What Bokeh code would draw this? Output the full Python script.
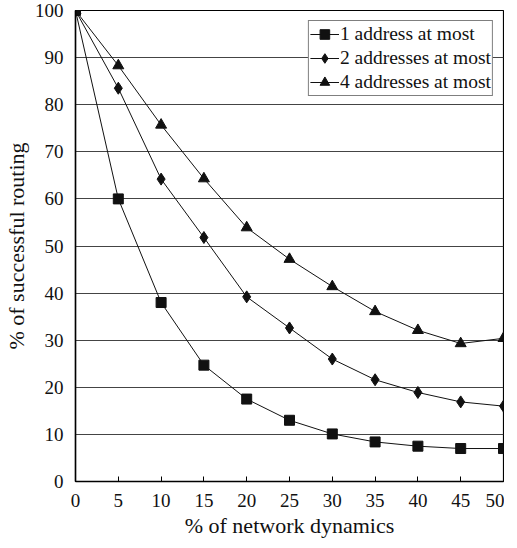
from bokeh.plotting import figure
from bokeh.models import Range1d, FixedTicker, Legend, LegendItem
from bokeh.embed import file_html
from bokeh.resources import INLINE

x = [0, 5, 10, 15, 20, 25, 30, 35, 40, 45, 50]
one_addr = [100, 60, 38, 24.7, 17.5, 13.0, 10.1, 8.4, 7.5, 7.0, 7.0]
two_addr = [100, 83.5, 64.2, 51.8, 39.2, 32.6, 26.0, 21.6, 18.9, 16.9, 16.0]
four_addr = [100, 88.3, 75.7, 64.3, 53.9, 47.2, 41.4, 36.1, 32.1, 29.3, 30.4]
labels = ["1 address at most", "2 addresses at most", "4 addresses at most"]

FONT = "Liberation Serif"

p = figure(width=504, height=540, output_backend="svg", toolbar_location=None,
           x_range=Range1d(0, 50), y_range=Range1d(0, 100),
           min_border_left=75, min_border_top=10, min_border_right=1, min_border_bottom=54)

p.outline_line_color = "black"
p.outline_line_width = 1.2
p.background_fill_color = "white"
p.border_fill_color = "white"

p.xgrid.visible = False
p.ygrid.grid_line_color = "#444444"
p.ygrid.grid_line_width = 1

p.xaxis.ticker = FixedTicker(ticks=x)
p.yaxis.ticker = FixedTicker(ticks=list(range(0, 101, 10)))
for ax in (p.xaxis[0], p.yaxis[0]):
    ax.axis_line_color = "black"
    ax.axis_line_width = 1.5
    ax.major_label_text_font = FONT
    ax.major_label_text_font_size = "19px"
    ax.major_label_text_color = "#111111"
    ax.axis_label_text_font = FONT
    ax.axis_label_text_font_size = "22px"
    ax.axis_label_text_font_style = "normal"
    ax.axis_label_text_color = "#111111"
    ax.minor_tick_line_color = None

p.xaxis.major_tick_in = 5
p.xaxis.major_tick_out = 0
p.xaxis.major_label_standoff = 12
p.xaxis.axis_label = "% of network dynamics"
p.xaxis.axis_label_standoff = 3
p.yaxis.major_tick_line_color = None
p.yaxis.major_tick_in = 0
p.yaxis.major_tick_out = 0
p.yaxis.major_label_standoff = 12
p.yaxis.axis_label = "% of successful routing"
p.yaxis.axis_label_standoff = 3

c = "#111111"
l1 = p.line(x, one_addr, line_color=c, line_width=1)
m1 = p.scatter(x, one_addr, marker="square", size=10, fill_color=c, line_color=c)
l2 = p.line(x, two_addr, line_color=c, line_width=1)
m2 = p.scatter(x, two_addr, marker="diamond", size=12, fill_color=c, line_color=c)
l3 = p.line(x, four_addr, line_color=c, line_width=1)
m3 = p.scatter(x, four_addr, marker="triangle", size=11, fill_color=c, line_color=c)

legend = Legend(items=[LegendItem(label=labels[0], renderers=[l1, m1]),
                       LegendItem(label=labels[1], renderers=[l2, m2]),
                       LegendItem(label=labels[2], renderers=[l3, m3])],
                location="top_right")
legend.label_text_font = FONT
legend.label_text_font_size = "19.5px"
legend.label_text_color = "#111111"
legend.border_line_color = "black"
legend.border_line_width = 1.2
legend.background_fill_alpha = 1
legend.padding = 1
legend.spacing = 0
legend.margin = 10
legend.glyph_width = 29
legend.glyph_height = 24
legend.label_height = 24
legend.label_standoff = 1
p.add_layout(legend)

open("out.html", "w").write(file_html(p, INLINE))
